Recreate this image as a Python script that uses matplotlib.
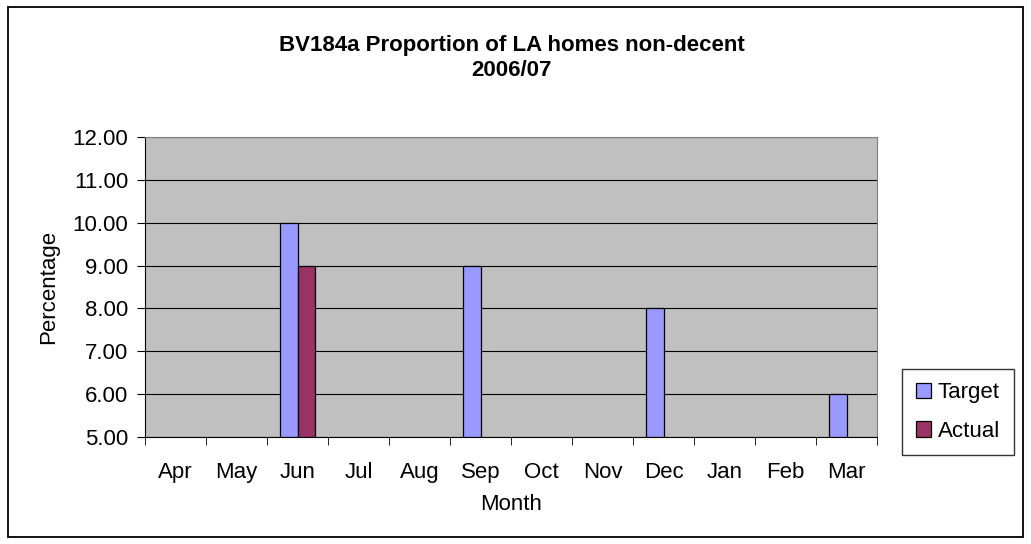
import numpy as np
import matplotlib.pyplot as plt
from matplotlib.patches import Rectangle

months = ["Apr", "May", "Jun", "Jul", "Aug", "Sep", "Oct", "Nov", "Dec", "Jan", "Feb", "Mar"]
target = [np.nan, np.nan, 10.0, np.nan, np.nan, 9.0, np.nan, np.nan, 8.0, np.nan, np.nan, 6.0]
actual = [np.nan, np.nan, 9.0, np.nan, np.nan, np.nan, np.nan, np.nan, np.nan, np.nan, np.nan, np.nan]

plt.rcParams["font.family"] = ["Liberation Sans", "DejaVu Sans"]

fig = plt.figure(figsize=(10.31, 5.44), dpi=100)
fig.patches.append(Rectangle((8 / 1031, 7 / 544), 1015 / 1031, 530 / 544, transform=fig.transFigure,
                             fill=False, edgecolor="black", linewidth=1.3))

ax = fig.add_axes([145 / 1031, 1 - 437 / 544, 732 / 1031, 300 / 544])
ax.set_facecolor("#C0C0C0")

x = np.arange(len(months))
w = 0.2857
base = 5.0
t = np.array(target) - base
a = np.array(actual) - base
ax.bar(x - w / 2, t, w, bottom=base, color="#9999FF", edgecolor="black", linewidth=0.9, label="Target", zorder=3)
ax.bar(x + w / 2, a, w, bottom=base, color="#993366", edgecolor="black", linewidth=0.9, label="Actual", zorder=3)

ax.set_xlim(-0.5, 11.5)
ax.set_ylim(5, 12)
ax.set_yticks(np.arange(5, 12.01, 1))
ax.set_yticklabels([f"{v:.2f}" for v in np.arange(5, 12.01, 1)])
ax.yaxis.grid(True, color="black", linewidth=0.8, zorder=1)
ax.set_axisbelow(True)

ax.set_xticks(x)
ax.set_xticklabels(months)
ax.set_xticks(np.arange(-0.5, 12, 1), minor=True)
ax.tick_params(axis="x", which="major", length=0, pad=18, labelsize=16)
ax.tick_params(axis="x", which="minor", length=6, direction="out", color="black")
ax.tick_params(axis="y", length=6, direction="out", labelsize=16, pad=6)

for side in ["top", "right"]:
    ax.spines[side].set_color("#808080")
ax.spines["left"].set_color("black")
ax.spines["bottom"].set_color("black")

ax.set_xlabel("Month", fontsize=16, labelpad=8)
ax.set_ylabel("Percentage", fontsize=16, labelpad=10)

fig.text(512 / 1031, 1 - 58 / 544, "BV184a Proportion of LA homes non-decent\n2006/07",
         ha="center", va="center", fontsize=16, fontweight="bold", linespacing=1.2)

leg = fig.legend(loc="center", bbox_to_anchor=(958 / 1031, 1 - 412 / 544), fontsize=16,
                 frameon=True, fancybox=False, edgecolor="black", handlelength=0.7, handleheight=0.7,
                 handletextpad=0.3, labelspacing=0.8, borderpad=0.6)
leg.get_frame().set_linewidth(1.0)

fig.savefig("out.png", dpi=100)
